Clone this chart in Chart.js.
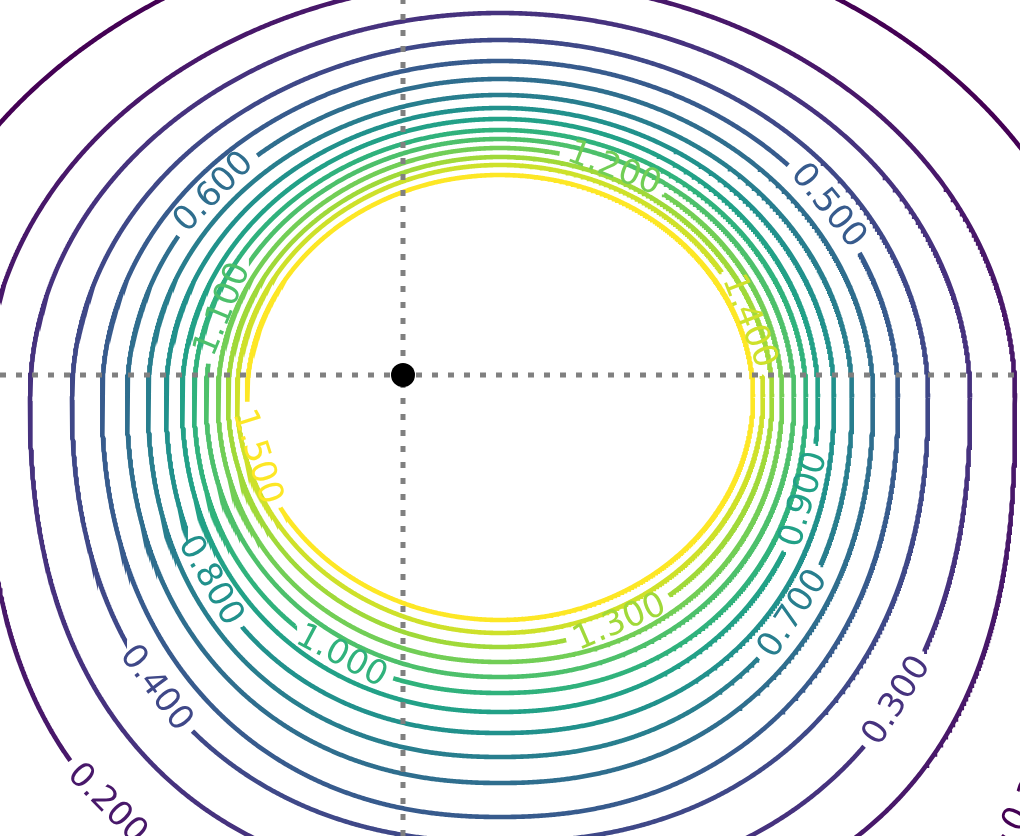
<!DOCTYPE html>
<html><head><meta charset="utf-8">
<script src="https://cdn.jsdelivr.net/npm/chart.js@4.4.1/dist/chart.umd.min.js"></script>
<style>html,body{margin:0;padding:0;background:#fff}#wrap{width:1020px;height:836px;position:relative}</style>
</head><body><div id="wrap"><canvas id="c"></canvas></div>
<script>
// ---- data (1 unit = 100 px; origin at the marked point) ----
const xRange = [-4.03, 6.17];
const yRange = [-4.61, 3.75];
const levels    = [0.1,0.2,0.3,0.4,0.5,0.6,0.7,0.8,0.9,1.0,1.1,1.2,1.3,1.4,1.5];
const levelText = ['0.100','0.200','0.300','0.400','0.500','0.600','0.700','0.800','0.900','1.000','1.100','1.200','1.300','1.400','1.500'];
// contour shape: centre, half-width, height above / below centre, squareness
const centerX   = [0.97,0.97,0.97,0.97,0.97,0.97,0.97,0.97,0.97,0.97,0.97,0.97,0.97,0.97,0.97];
const centerY   = [-0.22,-0.22,-0.22,-0.22,-0.22,-0.22,-0.22,-0.22,-0.22,-0.22,-0.22,-0.22,-0.22,-0.22,-0.22];
const halfWidth = [6.10,5.15,4.70,4.28,3.98,3.73,3.52,3.34,3.18,3.06,2.94,2.82,2.72,2.63,2.53];
const topHeight = [4.78,4.17,3.84,3.57,3.36,3.18,3.02,2.89,2.78,2.67,2.58,2.49,2.40,2.32,2.22];
const bottomHeight = [6.30,5.30,4.90,4.45,4.20,3.86,3.60,3.36,3.15,2.96,2.80,2.65,2.50,2.36,2.23];
const topPower  = [2.0,2.0,2.0,2.0,2.0,2.0,2.0,2.0,2.0,2.0,2.0,2.0,2.0,2.0,2.0];
const bottomPower = [2.6,2.6,2.35,2.25,2.2,2.2,2.2,2.2,2.15,2.15,2.1,2.1,2.05,2.0,2.0];
// label positions, as polar angle (deg) around the contour centre
const labelAngles = [[-36],[226],[-37.4],[220.2],[30.2],[144.5],[-36.5],[212.4],[-18.6],[238.5],[162.4],[63.5],[-62],[16.9],[193.9]];
const levelColors = ['#440154','#48186a','#46327e','#3f4888','#375b8d','#2f6e8e','#287e8e','#21918c','#22a187','#30b27c','#4dc06b','#72ce56','#a0d939','#cee12a','#fde725'];
const markerX = [0], markerY = [0];

const PX = 100; // px per unit
const FONT = '34px "DejaVu Sans"';
const mctx = document.createElement('canvas').getContext('2d');
mctx.font = FONT;
const N = 1800;

function spow(v, e){ return Math.sign(v)*Math.pow(Math.abs(v), e); }
function contourPoint(i, t){
  const c = Math.cos(t), s = Math.sin(t);
  const up = s >= 0;
  const p = up ? topPower[i] : bottomPower[i];
  const ry = up ? topHeight[i] : bottomHeight[i];
  return {x: centerX[i] + halfWidth[i]*spow(c, 2/p), y: centerY[i] + ry*spow(s, 2/p)};
}
const curves = levels.map((lv,i)=>{ const a=[]; for(let k=0;k<=N;k++) a.push(contourPoint(i, 2*Math.PI*k/N)); return a; });

const labels = [];
levels.forEach((lv,i)=>labelAngles[i].forEach(deg=>{
  const pts = curves[i];
  let best = 0, bd = 1e9;
  const target = deg*Math.PI/180;
  for (let k=0;k<N;k++){
    const a = Math.atan2(pts[k].y-centerY[i], pts[k].x-centerX[i]);
    let d = Math.abs(Math.atan2(Math.sin(a-target), Math.cos(a-target)));
    if (d < bd){ bd = d; best = k; }
  }
  const p0 = pts[(best-3+N)%N], p1 = pts[(best+3)%N];
  let rot = Math.atan2(-(p1.y-p0.y), p1.x-p0.x);
  if (rot > Math.PI/2) rot -= Math.PI;
  if (rot < -Math.PI/2) rot += Math.PI;
  labels.push({x: pts[best].x, y: pts[best].y, rot, text: levelText[i], color: levelColors[i], lvl: i});
}));

const datasets = [];
levels.forEach((lv,i)=>{
  const myLabels = labels.filter(l=>l.lvl===i);
  const pts = curves[i].map(p=>{
    for (const l of myLabels){
      const w = mctx.measureText(l.text).width/2 + 7;
      if (Math.hypot((p.x-l.x)*PX, (p.y-l.y)*PX) < w) return {x:p.x, y:null};
    }
    return p;
  });
  datasets.push({data: pts, borderColor: levelColors[i], borderWidth: 4.6, pointRadius: 0, showLine: true, spanGaps: false, tension: 0, borderCapStyle: 'butt', order: 5});
});
datasets.push({data: [{x:xRange[0],y:markerY[0]},{x:xRange[1],y:markerY[0]}], borderColor:'#808080', borderWidth:5, borderDash:[6,10], pointRadius:0, showLine:true, order:2});
datasets.push({data: [{x:markerX[0],y:yRange[0]},{x:markerX[0],y:yRange[1]}], borderColor:'#808080', borderWidth:5, borderDash:[6,10], pointRadius:0, showLine:true, order:2});
datasets.push({data: markerX.map((x,k)=>({x, y:markerY[k]})), backgroundColor:'#000', borderColor:'#000', pointRadius:12, borderWidth:0, showLine:false, order:1});

const labelPlugin = {
  id:'clabels',
  afterDatasetsDraw(chart){
    const ctx = chart.ctx, xs = chart.scales.x, ys = chart.scales.y;
    ctx.save();
    ctx.font = FONT; ctx.textAlign='center'; ctx.textBaseline='middle';
    for (const l of labels){
      ctx.save();
      ctx.translate(xs.getPixelForValue(l.x), ys.getPixelForValue(l.y));
      ctx.rotate(l.rot);
      ctx.fillStyle = l.color;
      ctx.fillText(l.text, 0, 0);
      ctx.restore();
    }
    ctx.restore();
  }
};

new Chart(document.getElementById('c'), {
  type:'scatter',
  data:{datasets},
  options:{
    responsive:true, maintainAspectRatio:false, animation:false,
    layout:{padding:0, autoPadding:false},
    plugins:{legend:{display:false}, tooltip:{enabled:false}},
    scales:{
      x:{type:'linear', min:xRange[0], max:xRange[1], display:false},
      y:{type:'linear', min:yRange[0], max:yRange[1], display:false}
    }
  },
  plugins:[labelPlugin]
});
</script></body></html>
